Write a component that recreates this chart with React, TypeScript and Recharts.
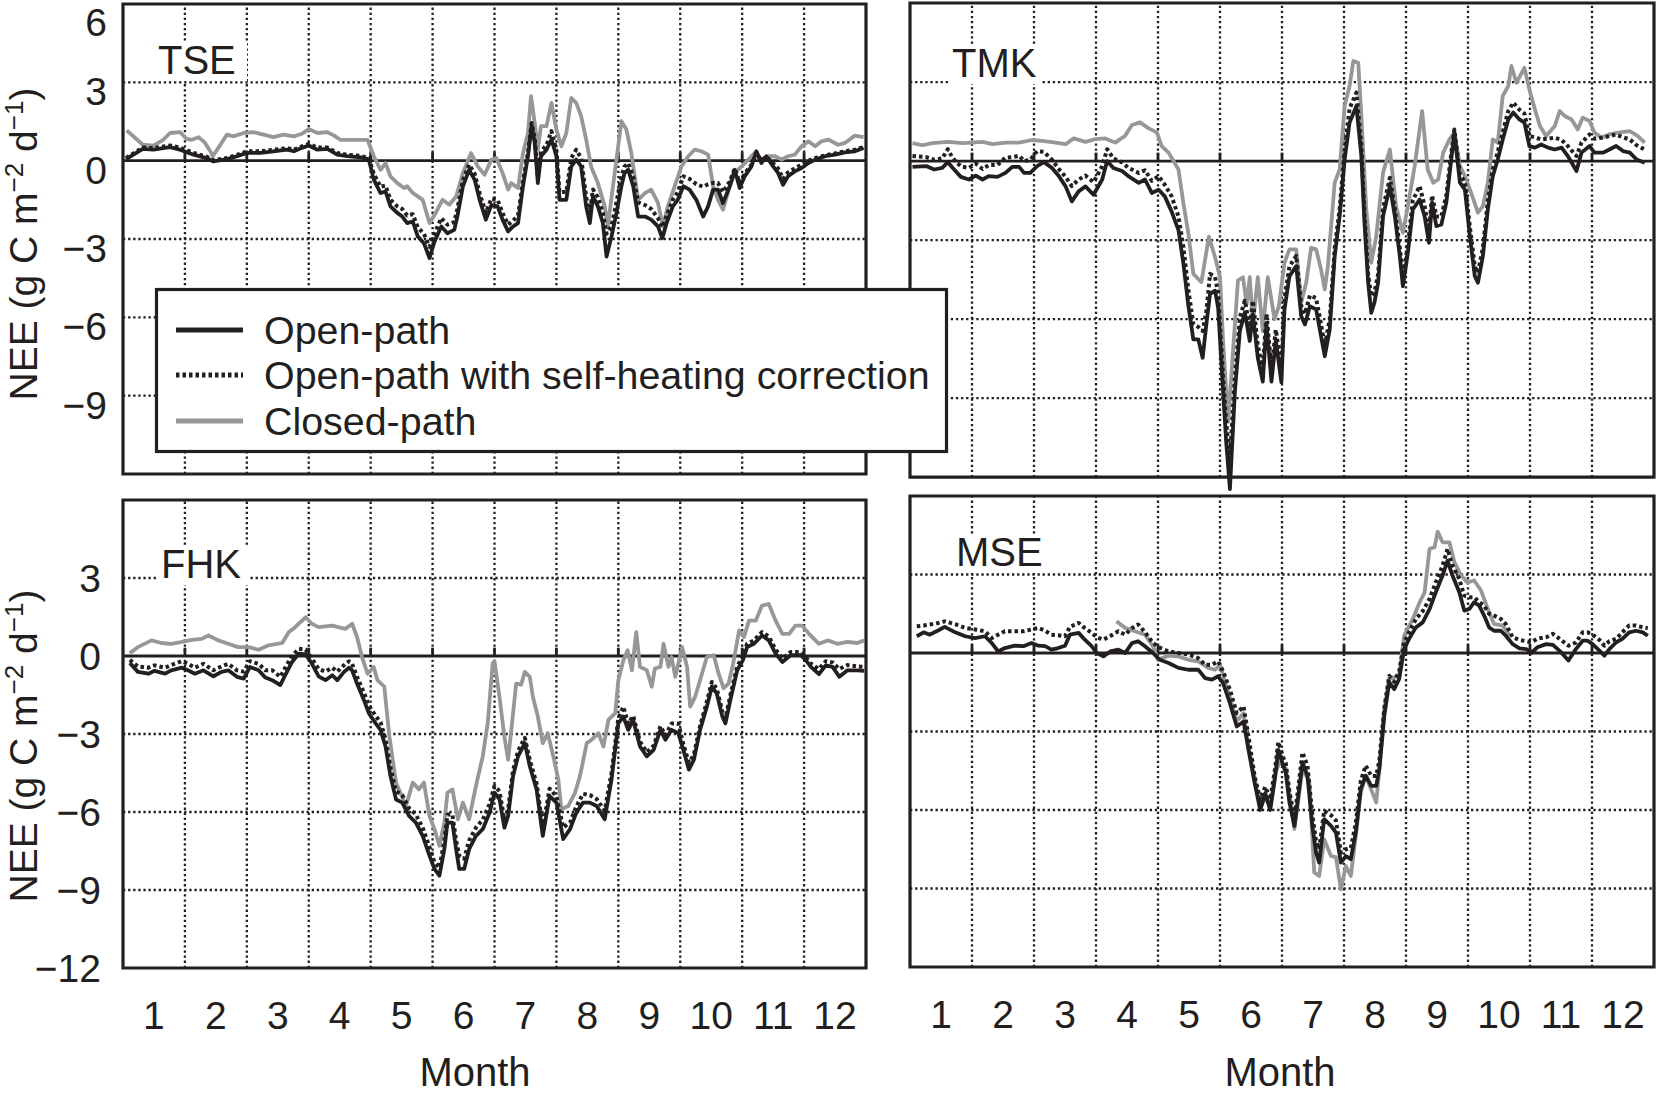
import { LineChart, Line, XAxis, YAxis, ReferenceLine, ReferenceArea } from 'recharts';

const INK = '#231f20';
const GREY = '#979797';
const FONT = '"Liberation Sans", Arial, Helvetica, sans-serif';

type Pt = [number, number]; // [month (0-12), NEE g C m-2 d-1]

const MONTHS = ['1', '2', '3', '4', '5', '6', '7', '8', '9', '10', '11', '12'];
const MONTH_BOUNDS = [1, 2, 3, 4, 5, 6, 7, 8, 9, 10, 11];
const GRID_Y = [3, -3, -6, -9];
const TOP_TICKS = [6, 3, 0, -3, -6, -9];
const BOTTOM_TICKS = [3, 0, -3, -6, -9, -12];

// ---- TSE ----
const TSE_OPEN: Pt[] = [[0.05,0.06],[0.32,0.45],[0.49,0.42],[0.76,0.52],[0.92,0.42],[1.14,0.23],[1.35,0.1],[1.46,-0.03],[1.68,0.06],[1.84,0.17],[2.0,0.3],[2.22,0.3],[2.43,0.36],[2.65,0.42],[2.76,0.36],[2.89,0.49],[3.0,0.58],[3.14,0.42],[3.3,0.45],[3.46,0.23],[3.62,0.17],[3.84,0.13],[3.97,0.05],[4.05,-0.73],[4.16,-1.24],[4.24,-1.18],[4.32,-1.75],[4.43,-2.0],[4.51,-2.14],[4.59,-2.39],[4.68,-2.33],[4.76,-2.9],[4.86,-3.16],[4.95,-3.73],[5.03,-3.1],[5.14,-2.52],[5.24,-2.78],[5.35,-2.65],[5.4,-2.14],[5.49,-0.98],[5.59,-0.35],[5.68,-0.73],[5.76,-1.5],[5.86,-2.26],[5.95,-1.7],[6.05,-1.75],[6.13,-2.26],[6.22,-2.71],[6.3,-2.52],[6.38,-2.39],[6.46,-0.98],[6.54,0.17],[6.6,1.32],[6.65,0.68],[6.7,-0.86],[6.75,0.17],[6.84,0.42],[6.92,0.81],[7.0,0.17],[7.05,-1.5],[7.16,-1.5],[7.24,-0.22],[7.32,0.04],[7.4,-0.22],[7.48,-1.75],[7.54,-2.39],[7.59,-1.37],[7.67,-1.75],[7.75,-2.39],[7.81,-3.67],[7.89,-2.9],[7.97,-2.0],[8.05,-0.98],[8.1,-0.47],[8.16,-0.35],[8.24,-0.98],[8.32,-2.14],[8.43,-2.14],[8.53,-2.26],[8.64,-2.52],[8.71,-2.97],[8.78,-2.39],[8.88,-1.75],[8.96,-1.5],[9.05,-0.98],[9.15,-1.11],[9.26,-1.5],[9.37,-2.14],[9.45,-1.75],[9.53,-1.11],[9.61,-1.11],[9.69,-1.62],[9.8,-0.98],[9.88,-0.35],[9.96,-1.05],[10.04,-0.6],[10.15,-0.22],[10.23,0.36],[10.31,-0.09],[10.39,0.17],[10.5,-0.22],[10.58,-0.47],[10.66,-0.92],[10.74,-0.6],[10.85,-0.41],[10.96,-0.28],[11.07,-0.09],[11.18,0.04],[11.34,0.17],[11.5,0.23],[11.66,0.32],[11.82,0.36],[11.96,0.49]];
const TSE_SELF: Pt[] = [[0.05,0.1],[0.32,0.5],[0.49,0.48],[0.76,0.58],[0.92,0.5],[1.14,0.3],[1.35,0.15],[1.46,0.02],[1.68,0.1],[1.84,0.22],[2.0,0.36],[2.22,0.36],[2.43,0.42],[2.65,0.48],[2.76,0.42],[2.89,0.55],[3.0,0.64],[3.14,0.5],[3.3,0.5],[3.46,0.3],[3.62,0.22],[3.84,0.18],[3.97,0.1],[4.05,-0.5],[4.16,-1.0],[4.24,-0.95],[4.32,-1.5],[4.43,-1.75],[4.51,-1.85],[4.59,-2.1],[4.68,-2.05],[4.76,-2.55],[4.86,-2.8],[4.95,-3.3],[5.03,-2.8],[5.14,-2.2],[5.24,-2.45],[5.35,-2.35],[5.4,-1.85],[5.49,-0.75],[5.59,-0.15],[5.68,-0.5],[5.76,-1.25],[5.86,-2.0],[5.95,-1.45],[6.05,-1.5],[6.13,-2.0],[6.22,-2.45],[6.3,-2.3],[6.38,-2.1],[6.46,-0.8],[6.54,0.3],[6.6,1.44],[6.65,0.85],[6.7,-0.6],[6.75,0.35],[6.84,0.6],[6.92,1.13],[7.0,0.4],[7.05,-1.2],[7.16,-1.2],[7.24,0.1],[7.32,0.42],[7.4,0.1],[7.48,-1.4],[7.54,-2.0],[7.59,-1.1],[7.67,-1.4],[7.75,-2.0],[7.81,-2.8],[7.89,-2.5],[7.97,-1.6],[8.05,-0.6],[8.1,-0.22],[8.16,-0.1],[8.24,-0.6],[8.32,-1.6],[8.43,-1.7],[8.53,-1.85],[8.64,-2.2],[8.71,-2.55],[8.78,-2.1],[8.88,-1.5],[8.96,-1.2],[9.05,-0.6],[9.15,-0.7],[9.26,-0.9],[9.37,-1.0],[9.45,-0.9],[9.53,-0.85],[9.61,-0.86],[9.69,-1.2],[9.8,-0.8],[9.88,-0.3],[9.96,-0.85],[10.04,-0.5],[10.15,-0.15],[10.23,0.3],[10.31,0.0],[10.39,0.15],[10.5,-0.1],[10.58,-0.3],[10.66,-0.7],[10.74,-0.45],[10.85,-0.3],[10.96,-0.15],[11.07,0.0],[11.18,0.1],[11.34,0.2],[11.5,0.28],[11.66,0.36],[11.82,0.42],[11.96,0.52]];
const TSE_CLOSED: Pt[] = [[0.06,1.16],[0.32,0.61],[0.49,0.58],[0.65,0.8],[0.76,1.06],[0.92,1.09],[1.03,0.83],[1.11,0.8],[1.22,0.9],[1.32,0.7],[1.41,0.36],[1.45,0.17],[1.54,0.49],[1.68,1.0],[1.78,0.93],[1.95,1.06],[2.11,1.09],[2.27,1.0],[2.43,0.9],[2.59,1.0],[2.76,0.93],[2.89,1.03],[3.0,1.21],[3.14,1.06],[3.3,1.09],[3.41,0.96],[3.51,0.8],[3.73,0.8],[3.95,0.8],[4.05,0.17],[4.16,-0.35],[4.24,-0.09],[4.32,-0.6],[4.43,-0.86],[4.54,-1.05],[4.59,-0.98],[4.68,-1.24],[4.76,-1.37],[4.84,-1.5],[4.95,-2.39],[5.05,-2.0],[5.16,-1.5],[5.27,-1.69],[5.38,-1.37],[5.49,-0.47],[5.62,0.29],[5.73,-0.22],[5.84,-0.54],[5.95,0.04],[6.03,0.1],[6.13,-0.47],[6.22,-1.11],[6.27,-0.86],[6.38,-1.05],[6.46,0.29],[6.54,1.06],[6.59,2.47],[6.65,1.44],[6.7,0.42],[6.75,1.32],[6.84,1.32],[6.92,2.21],[7.0,1.19],[7.08,0.55],[7.16,1.06],[7.24,2.4],[7.32,2.21],[7.4,1.7],[7.48,0.81],[7.56,-0.22],[7.67,-0.86],[7.78,-1.75],[7.83,-2.5],[7.94,-0.5],[8.05,1.51],[8.13,1.19],[8.21,0.29],[8.32,-1.5],[8.43,-1.24],[8.53,-1.11],[8.64,-1.62],[8.72,-2.52],[8.8,-1.75],[8.91,-0.98],[9.02,-0.22],[9.13,0.17],[9.23,0.42],[9.34,0.36],[9.45,0.23],[9.53,-0.98],[9.61,-1.5],[9.69,-1.88],[9.8,-0.98],[9.88,-0.47],[9.99,-0.22],[10.1,0.04],[10.2,0.29],[10.31,0.04],[10.42,0.17],[10.53,0.17],[10.64,0.04],[10.74,0.17],[10.85,0.23],[10.96,0.55],[11.07,0.74],[11.18,0.55],[11.28,0.74],[11.39,0.81],[11.55,0.61],[11.66,0.68],[11.82,0.96],[11.96,0.9]];

// ---- TMK ----
const TMK_OPEN: Pt[] = [[0.04,-0.22],[0.26,-0.19],[0.39,-0.32],[0.52,-0.26],[0.61,-0.04],[0.69,-0.26],[0.82,-0.6],[0.95,-0.7],[1.06,-0.55],[1.17,-0.7],[1.27,-0.57],[1.41,-0.6],[1.54,-0.45],[1.65,-0.22],[1.76,-0.22],[1.84,-0.45],[1.94,-0.45],[2.05,-0.19],[2.16,-0.04],[2.29,-0.26],[2.4,-0.57],[2.51,-0.96],[2.61,-1.53],[2.72,-1.15],[2.83,-0.96],[2.96,-1.28],[3.1,-0.7],[3.18,0.0],[3.28,-0.26],[3.42,-0.38],[3.52,-0.57],[3.69,-0.83],[3.79,-0.7],[3.9,-1.21],[4.01,-1.09],[4.11,-1.34],[4.22,-1.92],[4.33,-2.62],[4.41,-3.9],[4.49,-5.49],[4.57,-6.77],[4.65,-6.77],[4.72,-7.47],[4.78,-6.19],[4.84,-5.04],[4.92,-4.92],[4.97,-5.56],[5.05,-8.75],[5.1,-10.66],[5.16,-12.45],[5.24,-8.75],[5.32,-6.45],[5.4,-5.75],[5.48,-6.83],[5.53,-5.81],[5.61,-7.47],[5.69,-8.37],[5.75,-6.19],[5.83,-8.37],[5.9,-6.8],[5.99,-8.4],[6.04,-5.63],[6.12,-4.37],[6.23,-3.99],[6.31,-5.89],[6.37,-6.2],[6.45,-5.51],[6.55,-5.63],[6.63,-6.65],[6.69,-7.41],[6.77,-6.39],[6.85,-3.61],[6.93,-2.09],[7.01,0.06],[7.09,1.46],[7.2,2.09],[7.28,0.19],[7.33,-2.34],[7.39,-4.62],[7.44,-5.76],[7.49,-5.38],[7.55,-4.62],[7.63,-2.09],[7.74,-0.95],[7.82,-2.09],[7.9,-3.61],[7.95,-4.75],[8.03,-3.48],[8.11,-1.84],[8.22,-1.46],[8.3,-2.09],[8.37,-3.1],[8.42,-1.58],[8.49,-2.47],[8.57,-2.41],[8.65,-1.58],[8.73,0.06],[8.78,1.08],[8.87,-0.82],[8.95,-1.08],[9.03,-2.85],[9.11,-4.37],[9.16,-4.62],[9.24,-3.61],[9.32,-1.84],[9.4,-0.57],[9.48,0.06],[9.56,0.82],[9.65,1.58],[9.73,1.84],[9.83,1.58],[9.91,1.46],[9.99,0.57],[10.08,0.51],[10.18,0.63],[10.29,0.51],[10.4,0.44],[10.51,0.51],[10.61,0.19],[10.75,-0.38],[10.83,0.32],[10.96,0.57],[11.04,0.32],[11.18,0.32],[11.28,0.44],[11.39,0.57],[11.5,0.38],[11.61,0.32],[11.72,0.06],[11.85,-0.06]];
const TMK_SELF: Pt[] = [[0.04,0.19],[0.26,0.15],[0.39,0.05],[0.52,0.1],[0.61,0.45],[0.69,0.1],[0.82,-0.2],[0.95,-0.26],[1.06,-0.1],[1.17,-0.3],[1.27,-0.15],[1.41,-0.15],[1.54,0.13],[1.65,0.15],[1.76,0.2],[1.84,0.0],[1.94,0.05],[2.05,0.38],[2.16,0.35],[2.29,0.05],[2.4,-0.3],[2.51,-0.6],[2.61,-0.95],[2.72,-0.7],[2.83,-0.55],[2.96,-0.8],[3.1,-0.2],[3.18,0.45],[3.28,0.1],[3.42,-0.05],[3.52,-0.25],[3.69,-0.45],[3.79,-0.35],[3.9,-0.75],[4.01,-0.57],[4.11,-0.9],[4.22,-1.34],[4.33,-2.1],[4.41,-3.26],[4.49,-4.9],[4.57,-6.19],[4.65,-6.3],[4.72,-6.45],[4.78,-5.7],[4.84,-4.28],[4.92,-4.4],[4.97,-5.0],[5.05,-8.2],[5.1,-9.9],[5.16,-11.3],[5.24,-8.2],[5.32,-5.94],[5.4,-5.3],[5.48,-6.3],[5.53,-5.3],[5.61,-7.0],[5.69,-7.9],[5.75,-5.8],[5.83,-7.9],[5.9,-6.4],[5.99,-7.9],[6.04,-5.2],[6.12,-4.0],[6.23,-3.6],[6.31,-5.5],[6.37,-5.8],[6.45,-5.1],[6.55,-5.2],[6.63,-6.2],[6.69,-7.0],[6.77,-6.0],[6.85,-3.3],[6.93,-1.8],[7.01,0.4],[7.09,2.0],[7.2,2.6],[7.28,0.6],[7.33,-2.0],[7.39,-4.3],[7.44,-5.13],[7.49,-5.0],[7.55,-4.3],[7.63,-1.8],[7.74,-0.63],[7.82,-1.8],[7.9,-3.3],[7.95,-4.37],[8.03,-3.2],[8.11,-1.5],[8.22,-0.95],[8.3,-1.7],[8.37,-2.7],[8.42,-1.3],[8.49,-2.1],[8.57,-2.1],[8.65,-1.3],[8.73,0.3],[8.78,1.2],[8.87,-0.5],[8.95,-0.8],[9.03,-2.5],[9.11,-4.0],[9.16,-4.24],[9.24,-3.3],[9.32,-1.5],[9.4,-0.3],[9.48,0.35],[9.56,1.1],[9.65,1.9],[9.73,2.22],[9.83,1.95],[9.91,1.8],[9.99,0.95],[10.08,0.9],[10.18,0.82],[10.29,0.85],[10.4,0.89],[10.51,0.8],[10.61,0.57],[10.75,0.19],[10.83,0.7],[10.96,1.01],[11.04,0.85],[11.18,0.89],[11.28,0.95],[11.39,1.01],[11.5,0.9],[11.61,0.82],[11.72,0.6],[11.85,0.44]];
const TMK_CLOSED: Pt[] = [[0.04,0.68],[0.2,0.6],[0.36,0.68],[0.61,0.73],[0.85,0.68],[1.17,0.73],[1.33,0.64],[1.54,0.7],[1.76,0.7],[1.97,0.8],[2.13,0.77],[2.35,0.7],[2.51,0.64],[2.64,0.86],[2.83,0.73],[2.99,0.83],[3.15,0.86],[3.31,0.7],[3.47,0.96],[3.58,1.37],[3.71,1.47],[3.85,1.24],[3.98,1.09],[4.06,0.57],[4.17,0.32],[4.25,0.0],[4.33,-0.32],[4.41,-1.6],[4.49,-2.75],[4.57,-4.28],[4.7,-4.6],[4.82,-2.87],[4.92,-3.64],[5.0,-4.41],[5.05,-6.83],[5.13,-9.9],[5.21,-7.22],[5.29,-4.53],[5.37,-4.41],[5.43,-5.43],[5.48,-4.41],[5.53,-6.19],[5.61,-4.41],[5.69,-6.45],[5.77,-4.41],[5.88,-6.0],[5.95,-5.5],[6.04,-3.86],[6.12,-3.35],[6.23,-3.35],[6.31,-5.38],[6.39,-4.62],[6.47,-3.29],[6.55,-3.35],[6.63,-4.11],[6.69,-4.87],[6.74,-3.99],[6.85,-0.82],[6.93,-0.32],[7.01,2.09],[7.09,2.85],[7.15,3.8],[7.23,3.73],[7.28,1.71],[7.36,-1.84],[7.44,-3.86],[7.52,-2.85],[7.63,-0.44],[7.74,0.44],[7.84,-1.71],[7.95,-2.72],[8.03,-1.71],[8.14,-0.19],[8.26,1.9],[8.35,-0.32],[8.44,-0.82],[8.52,-0.7],[8.6,0.32],[8.7,0.82],[8.78,1.08],[8.87,-0.19],[8.95,-0.57],[9.05,-1.2],[9.16,-1.96],[9.24,-1.71],[9.32,-0.82],[9.4,0.82],[9.48,0.7],[9.56,2.47],[9.65,2.85],[9.7,3.61],[9.78,2.97],[9.91,3.54],[9.99,2.72],[10.08,1.96],[10.16,1.33],[10.26,0.95],[10.4,1.33],[10.48,1.9],[10.56,1.71],[10.67,1.58],[10.77,1.2],[10.85,1.65],[10.96,1.52],[11.04,1.08],[11.15,0.89],[11.28,1.01],[11.42,1.08],[11.61,1.14],[11.74,0.95],[11.85,0.7]];

// ---- FHK ----
const FHK_OPEN: Pt[] = [[0.11,-0.27],[0.24,-0.61],[0.41,-0.68],[0.51,-0.57],[0.68,-0.68],[0.78,-0.55],[0.95,-0.45],[1.05,-0.55],[1.16,-0.68],[1.3,-0.55],[1.46,-0.78],[1.59,-0.61],[1.7,-0.55],[1.84,-0.8],[1.95,-0.87],[2.05,-0.42],[2.19,-0.55],[2.3,-0.83],[2.41,-0.93],[2.54,-1.12],[2.62,-0.74],[2.73,-0.23],[2.84,0.09],[2.95,0.06],[3.05,-0.29],[3.16,-0.78],[3.27,-0.93],[3.38,-0.74],[3.46,-0.93],[3.57,-0.61],[3.65,-0.45],[3.7,-0.55],[3.78,-1.06],[3.89,-1.69],[3.97,-2.2],[4.08,-2.59],[4.16,-2.84],[4.24,-3.48],[4.32,-4.62],[4.41,-5.52],[4.51,-5.64],[4.62,-6.15],[4.73,-6.41],[4.84,-6.92],[4.95,-7.68],[5.03,-8.19],[5.11,-8.45],[5.19,-7.43],[5.24,-6.41],[5.32,-6.41],[5.38,-7.43],[5.43,-8.19],[5.51,-8.19],[5.59,-7.43],[5.7,-6.92],[5.81,-6.66],[5.92,-6.03],[6.0,-5.26],[6.08,-5.5],[6.16,-6.6],[6.22,-6.15],[6.3,-4.62],[6.38,-3.86],[6.49,-3.35],[6.57,-4.24],[6.68,-5.13],[6.78,-6.92],[6.89,-5.39],[7.0,-5.64],[7.11,-7.04],[7.22,-6.66],[7.32,-6.03],[7.43,-5.64],[7.54,-5.64],[7.65,-5.77],[7.78,-6.28],[7.89,-4.75],[8.0,-2.59],[8.08,-2.33],[8.16,-2.84],[8.24,-2.46],[8.35,-3.48],[8.46,-3.86],[8.57,-3.61],[8.68,-2.84],[8.76,-3.22],[8.86,-2.84],[8.97,-2.97],[9.05,-3.61],[9.14,-4.37],[9.22,-3.99],[9.32,-2.84],[9.43,-1.95],[9.51,-1.18],[9.59,-1.44],[9.68,-2.33],[9.73,-2.59],[9.81,-1.69],[9.92,-0.55],[10.01,-0.17],[10.08,0.34],[10.19,0.47],[10.32,0.79],[10.43,0.6],[10.54,0.09],[10.65,-0.23],[10.78,0.03],[10.95,0.03],[11.03,-0.17],[11.11,-0.42],[11.24,-0.7],[11.35,-0.36],[11.46,-0.42],[11.57,-0.8],[11.7,-0.55],[11.86,-0.55],[11.97,-0.57]];
const FHK_SELF: Pt[] = [[0.11,-0.15],[0.24,-0.4],[0.41,-0.45],[0.51,-0.36],[0.68,-0.45],[0.78,-0.35],[0.95,-0.2],[1.05,-0.3],[1.16,-0.45],[1.3,-0.3],[1.46,-0.55],[1.59,-0.4],[1.7,-0.3],[1.84,-0.55],[1.95,-0.6],[2.05,-0.2],[2.19,-0.3],[2.3,-0.55],[2.41,-0.55],[2.54,-0.8],[2.62,-0.45],[2.73,0.0],[2.84,0.28],[2.95,0.25],[3.05,-0.1],[3.16,-0.5],[3.27,-0.6],[3.38,-0.45],[3.46,-0.6],[3.57,-0.35],[3.65,-0.2],[3.7,-0.3],[3.78,-0.8],[3.89,-1.4],[3.97,-1.9],[4.08,-2.3],[4.16,-2.55],[4.24,-3.2],[4.32,-4.3],[4.41,-5.2],[4.51,-5.35],[4.62,-5.85],[4.73,-6.1],[4.84,-6.6],[4.95,-7.35],[5.03,-7.94],[5.11,-8.15],[5.19,-7.1],[5.24,-6.1],[5.32,-6.1],[5.38,-7.1],[5.43,-7.68],[5.51,-7.8],[5.59,-7.1],[5.7,-6.6],[5.81,-6.3],[5.92,-5.7],[6.0,-5.0],[6.08,-5.2],[6.16,-6.3],[6.22,-5.9],[6.3,-4.4],[6.38,-3.65],[6.49,-3.15],[6.57,-4.0],[6.68,-4.9],[6.78,-6.6],[6.89,-5.1],[7.0,-5.4],[7.11,-6.6],[7.22,-6.4],[7.32,-5.8],[7.43,-5.3],[7.54,-5.35],[7.65,-5.5],[7.78,-5.95],[7.89,-4.5],[8.0,-2.4],[8.08,-1.95],[8.16,-2.6],[8.24,-2.3],[8.35,-3.3],[8.46,-3.7],[8.57,-3.45],[8.68,-2.7],[8.76,-3.05],[8.86,-2.6],[8.97,-2.6],[9.05,-3.4],[9.14,-4.1],[9.22,-3.8],[9.32,-2.7],[9.43,-1.75],[9.51,-1.0],[9.59,-1.25],[9.68,-2.15],[9.73,-2.4],[9.81,-1.5],[9.92,-0.4],[10.01,0.0],[10.08,0.47],[10.19,0.6],[10.32,0.92],[10.43,0.75],[10.54,0.25],[10.65,-0.1],[10.78,0.15],[10.95,0.15],[11.03,-0.05],[11.11,-0.3],[11.24,-0.5],[11.35,-0.2],[11.46,-0.25],[11.57,-0.5],[11.7,-0.35],[11.86,-0.4],[11.97,-0.42]];
const FHK_CLOSED: Pt[] = [[0.11,0.11],[0.24,0.34],[0.46,0.6],[0.62,0.5],[0.78,0.47],[0.95,0.54],[1.11,0.62],[1.27,0.66],[1.38,0.79],[1.54,0.6],[1.7,0.47],[1.86,0.34],[2.03,0.34],[2.19,0.24],[2.35,0.41],[2.57,0.5],[2.68,0.92],[2.78,1.11],[2.95,1.49],[3.05,1.24],[3.16,1.11],[3.38,1.17],[3.59,1.04],[3.7,1.24],[3.78,0.73],[3.86,-0.04],[3.95,-0.68],[4.05,-0.42],[4.11,-0.93],[4.22,-1.18],[4.3,-3.06],[4.41,-4.87],[4.57,-5.77],[4.68,-4.87],[4.78,-5.13],[4.86,-4.87],[4.95,-6.15],[5.03,-6.66],[5.11,-7.3],[5.19,-6.41],[5.24,-5.26],[5.32,-5.13],[5.41,-6.28],[5.49,-5.64],[5.59,-6.28],[5.7,-5.0],[5.81,-3.86],[5.89,-2.59],[5.97,-0.29],[6.0,-0.2],[6.08,-1.57],[6.16,-3.1],[6.22,-3.99],[6.3,-2.2],[6.35,-1.06],[6.43,-1.1],[6.49,-0.61],[6.57,-0.8],[6.62,-1.57],[6.7,-2.33],[6.78,-3.35],[6.86,-2.97],[6.95,-3.86],[7.03,-4.75],[7.08,-5.9],[7.19,-5.77],[7.3,-5.26],[7.38,-4.62],[7.49,-3.35],[7.57,-3.22],[7.68,-2.97],[7.76,-3.48],[7.84,-2.46],[7.95,-2.2],[8.0,-0.93],[8.08,-0.17],[8.15,0.22],[8.22,-0.55],[8.29,0.92],[8.35,-0.42],[8.46,-0.55],[8.54,-1.18],[8.59,-0.48],[8.68,-0.42],[8.73,0.47],[8.81,-0.42],[8.86,-0.04],[8.92,-0.8],[9.03,0.34],[9.11,-0.42],[9.16,-1.95],[9.24,-1.57],[9.32,-0.93],[9.43,-0.04],[9.54,0.03],[9.62,-0.68],[9.7,-1.24],[9.78,-1.06],[9.86,-0.23],[9.95,0.98],[10.03,0.73],[10.11,1.36],[10.22,1.36],[10.32,1.94],[10.43,2.0],[10.54,1.36],[10.65,0.85],[10.76,0.85],[10.86,1.17],[10.97,1.17],[11.08,0.85],[11.24,0.47],[11.38,0.6],[11.54,0.47],[11.7,0.54],[11.86,0.5],[11.97,0.6]];

// ---- MSE ----
const MSE_OPEN: Pt[] = [[0.11,0.64],[0.22,0.79],[0.32,0.7],[0.46,0.87],[0.56,1.0],[0.73,0.79],[0.89,0.64],[1.05,0.57],[1.21,0.64],[1.32,0.38],[1.42,0.06],[1.53,0.19],[1.69,0.28],[1.83,0.26],[1.96,0.38],[2.07,0.28],[2.18,0.26],[2.28,0.13],[2.39,0.19],[2.5,0.28],[2.58,0.7],[2.72,0.77],[2.82,0.51],[2.93,0.26],[3.01,0.0],[3.12,-0.13],[3.23,0.06],[3.36,0.13],[3.47,0.0],[3.58,0.38],[3.68,0.45],[3.79,0.26],[3.92,0.0],[4.03,-0.26],[4.17,-0.38],[4.33,-0.57],[4.49,-0.64],[4.65,-0.64],[4.76,-0.96],[4.87,-1.02],[4.97,-0.89],[5.05,-1.15],[5.16,-1.92],[5.27,-2.81],[5.38,-2.62],[5.46,-3.7],[5.56,-4.98],[5.65,-6.0],[5.73,-5.36],[5.81,-6.0],[5.89,-4.73],[5.94,-3.7],[6.02,-4.3],[6.06,-4.57],[6.12,-5.71],[6.2,-6.61],[6.25,-5.71],[6.33,-4.18],[6.41,-4.69],[6.49,-6.61],[6.55,-7.63],[6.6,-8.01],[6.68,-6.35],[6.79,-6.61],[6.87,-6.86],[6.95,-8.01],[7.03,-7.76],[7.11,-7.88],[7.19,-6.86],[7.27,-5.2],[7.35,-4.69],[7.44,-5.08],[7.52,-5.08],[7.57,-4.44],[7.65,-2.4],[7.73,-1.12],[7.81,-1.38],[7.89,-0.99],[7.97,0.15],[8.05,0.54],[8.16,0.98],[8.27,1.17],[8.38,1.68],[8.48,2.32],[8.59,2.96],[8.67,3.53],[8.75,2.96],[8.86,2.32],[8.94,1.62],[9.02,1.68],[9.1,1.94],[9.18,1.81],[9.26,1.43],[9.34,0.98],[9.42,0.85],[9.53,0.85],[9.61,0.66],[9.72,0.34],[9.83,0.18],[9.94,0.15],[10.02,0.0],[10.12,0.22],[10.26,0.34],[10.37,0.31],[10.5,0.03],[10.62,-0.29],[10.74,0.15],[10.85,0.47],[10.93,0.47],[11.01,0.34],[11.12,0.09],[11.2,-0.1],[11.28,0.15],[11.39,0.41],[11.49,0.54],[11.6,0.79],[11.71,0.85],[11.82,0.79],[11.9,0.66]];
const MSE_SELF: Pt[] = [[0.11,1.02],[0.22,1.05],[0.32,1.09],[0.46,1.15],[0.56,1.21],[0.73,1.1],[0.89,0.96],[1.05,0.9],[1.21,0.83],[1.32,0.57],[1.42,0.7],[1.53,0.83],[1.69,0.83],[1.83,0.83],[1.96,0.9],[2.07,0.96],[2.18,0.85],[2.28,0.7],[2.39,0.68],[2.5,0.64],[2.58,1.0],[2.72,1.15],[2.82,0.95],[2.93,0.77],[3.01,0.6],[3.12,0.51],[3.23,0.65],[3.36,0.83],[3.47,0.7],[3.58,0.95],[3.68,1.09],[3.79,0.8],[3.92,0.38],[4.03,0.2],[4.17,0.06],[4.33,0.0],[4.49,-0.06],[4.65,-0.2],[4.76,-0.45],[4.87,-0.45],[4.97,-0.32],[5.05,-0.7],[5.16,-1.4],[5.27,-2.3],[5.38,-2.04],[5.46,-3.2],[5.56,-4.73],[5.65,-5.6],[5.73,-5.11],[5.81,-5.6],[5.89,-4.4],[5.94,-3.4],[6.02,-4.0],[6.06,-4.2],[6.12,-5.3],[6.2,-6.3],[6.25,-5.4],[6.33,-3.8],[6.41,-4.3],[6.49,-6.2],[6.55,-7.2],[6.6,-7.5],[6.68,-6.03],[6.79,-6.2],[6.87,-6.4],[6.95,-7.63],[7.03,-7.5],[7.11,-7.45],[7.19,-6.5],[7.27,-4.9],[7.35,-4.3],[7.44,-4.7],[7.52,-4.7],[7.57,-4.1],[7.65,-2.1],[7.73,-0.87],[7.81,-1.1],[7.89,-0.7],[7.97,0.41],[8.05,0.8],[8.16,1.3],[8.27,1.6],[8.38,2.07],[8.48,2.7],[8.59,3.34],[8.67,3.98],[8.75,3.34],[8.86,2.83],[8.94,2.19],[9.02,2.13],[9.1,2.13],[9.18,1.95],[9.26,1.81],[9.34,1.5],[9.42,1.43],[9.53,1.3],[9.61,1.1],[9.72,0.6],[9.83,0.5],[9.94,0.45],[10.02,0.41],[10.12,0.55],[10.26,0.6],[10.37,0.73],[10.5,0.5],[10.62,0.28],[10.74,0.4],[10.85,0.79],[10.93,0.79],[11.01,0.7],[11.12,0.5],[11.2,0.28],[11.28,0.45],[11.39,0.54],[11.49,0.79],[11.6,1.05],[11.71,1.05],[11.82,0.98],[11.9,0.95]];
const MSE_CLOSED: Pt[] = [[3.33,1.21],[3.47,0.96],[3.63,0.83],[3.79,0.7],[3.92,0.25],[4.0,-0.26],[4.17,-0.1],[4.33,-0.13],[4.49,-0.26],[4.65,-0.32],[4.81,-0.57],[4.92,-0.64],[5.0,-0.45],[5.16,-1.7],[5.27,-2.6],[5.38,-2.3],[5.46,-3.6],[5.56,-4.8],[5.65,-5.9],[5.73,-5.5],[5.81,-5.9],[5.89,-4.6],[5.96,-4.18],[6.06,-4.4],[6.2,-6.73],[6.33,-4.44],[6.44,-4.9],[6.52,-8.39],[6.6,-8.52],[6.68,-7.12],[6.79,-7.76],[6.87,-7.8],[6.95,-9.03],[7.03,-8.14],[7.11,-8.52],[7.19,-6.99],[7.27,-5.33],[7.35,-4.69],[7.52,-5.71],[7.57,-4.44],[7.65,-2.14],[7.73,-0.99],[7.89,-0.87],[7.97,0.66],[8.11,1.3],[8.22,1.94],[8.3,2.32],[8.38,3.98],[8.46,4.04],[8.51,4.64],[8.59,4.23],[8.7,4.23],[8.78,3.47],[8.89,2.96],[8.99,2.7],[9.1,2.77],[9.21,2.39],[9.32,1.68],[9.42,1.11],[9.56,1.05],[9.67,0.66]];

const SERIES = [
  { key: 'open', name: 'Open-path', color: INK, width: 3.8, dash: undefined as string | undefined },
  { key: 'self', name: 'Open-path with self-heating correction', color: INK, width: 4, dash: '3.5 3' },
  { key: 'closed', name: 'Closed-path', color: GREY, width: 3.8, dash: undefined as string | undefined },
];

interface PanelSpec {
  name: string;
  open: Pt[];
  self: Pt[];
  closed: Pt[];
  left: number;
  top: number;
  width: number;
  height: number;
  yDomain: [number, number];
  yTicks?: number[];
  tickDx?: number;
  tickDy?: number;
  months?: boolean;
  labelX: number;
  labelY: number;
}

const PANELS: PanelSpec[] = [
  { name: 'TSE', open: TSE_OPEN, self: TSE_SELF, closed: TSE_CLOSED, left: 123, top: 4, width: 743, height: 470, yDomain: [-12, 6], yTicks: TOP_TICKS, tickDx: -16, tickDy: 9, labelX: 158, labelY: 74 },
  { name: 'TMK', open: TMK_OPEN, self: TMK_SELF, closed: TMK_CLOSED, left: 910, top: 3, width: 744, height: 490, yDomain: [-12.6, 6], labelX: 952, labelY: 77 },
  { name: 'FHK', open: FHK_OPEN, self: FHK_SELF, closed: FHK_CLOSED, left: 123, top: 500, width: 743, height: 468, yDomain: [-12, 6], yTicks: BOTTOM_TICKS, tickDx: -22, tickDy: 0, months: true, labelX: 161, labelY: 578 },
  { name: 'MSE', open: MSE_OPEN, self: MSE_SELF, closed: MSE_CLOSED, left: 910, top: 496, width: 744, height: 471, yDomain: [-12, 6], months: true, labelX: 956, labelY: 566 },
];

const PAD = 12;
const X_AXIS_H = 80;
const TICK_FONT = 39;
const TEXT_FONT = 40;
const LEGEND_FONT = 39.4;

const toData = (pts: Pt[]) => pts.map(([m, v]) => ({ m, v }));
const fmt = (v: number) => (v < 0 ? `\u2212${-v}` : String(v));

function Panel(p: PanelSpec) {
  const showY = !!p.yTicks;
  const chartLeft = showY ? 0 : p.left - PAD;
  const chartTop = p.top - PAD;
  const width = p.left + p.width + PAD - chartLeft;
  const height = PAD + p.height + (p.months ? X_AXIS_H : PAD);
  const byKey: Record<string, Pt[]> = { open: p.open, self: p.self, closed: p.closed };
  const drawOrder = ['closed', 'self', 'open'];
  // keep the topmost tick label inside the page (page y >= 22)
  const minLabelY = 22 - chartTop;

  return (
    <div style={{ position: 'absolute', left: chartLeft, top: chartTop }}>
      <LineChart
        width={width}
        height={height}
        margin={{ top: PAD, right: PAD, bottom: p.months ? 0 : PAD, left: showY ? 0 : PAD }}
      >
        <XAxis
          type="number"
          dataKey="m"
          domain={[0, 12]}
          allowDataOverflow
          ticks={MONTHS.map((_, i) => i + 0.5)}
          interval={0}
          hide={!p.months}
          height={X_AXIS_H}
          axisLine={false}
          tickLine={false}
          tickSize={0}
          tickMargin={0}
          tick={(t: any) => (
            <text x={t.x} y={t.y + 61} textAnchor="middle" fontSize={TICK_FONT} fill={INK} fontFamily={FONT}>
              {MONTHS[Math.floor(t.payload.value)]}
            </text>
          )}
        />
        <YAxis
          type="number"
          domain={p.yDomain}
          allowDataOverflow
          ticks={p.yTicks ?? GRID_Y}
          interval={0}
          hide={!showY}
          width={p.left}
          axisLine={false}
          tickLine={false}
          tickSize={0}
          tickMargin={0}
          tick={(t: any) => (
            <text
              x={t.x + (p.tickDx ?? 0)}
              y={Math.max(t.y + (p.tickDy ?? 0), minLabelY) + 14}
              textAnchor="end"
              fontSize={TICK_FONT}
              fill={INK}
              fontFamily={FONT}
            >
              {fmt(t.payload.value)}
            </text>
          )}
        />
        {GRID_Y.map((g) => (
          <ReferenceLine key={`h${g}`} y={g} stroke={INK} strokeWidth={2.3} strokeDasharray="2.3 2.8" />
        ))}
        {MONTH_BOUNDS.map((b) => (
          <ReferenceLine
            key={`v${b}`}
            segment={[{ x: b, y: -12 }, { x: b, y: 6 }]}
            stroke={INK}
            strokeWidth={2.3}
            strokeDasharray="2.3 2.8"
          />
        ))}
        <ReferenceLine y={0} stroke={INK} strokeWidth={2.8} />
        {MONTH_BOUNDS.map((b) => (
          <ReferenceLine key={`t${b}`} segment={[{ x: b, y: 0 }, { x: b, y: 0.32 }]} stroke={INK} strokeWidth={2.8} />
        ))}
        <ReferenceArea x1={0} x2={12} y1={-12} y2={6} fill="none" stroke={INK} strokeWidth={3.2} />
        {drawOrder.map((k) => {
          const s = SERIES.find((d) => d.key === k)!;
          return (
            <Line
              key={k}
              data={toData(byKey[k])}
              dataKey="v"
              name={s.name}
              type="linear"
              stroke={s.color}
              strokeWidth={s.width}
              strokeDasharray={s.dash}
              strokeLinejoin="round"
              dot={false}
              activeDot={false}
              isAnimationActive={false}
            />
          );
        })}
      </LineChart>
    </div>
  );
}

function Overlay() {
  const legendRows = [330, 375, 421];
  return (
    <svg
      width={1658}
      height={1096}
      style={{ position: 'absolute', left: 0, top: 0, pointerEvents: 'none' }}
      fontFamily={FONT}
      fill={INK}
    >
      {PANELS.map((p) => (
        <g key={p.name}>
          <rect x={p.labelX - 3} y={p.labelY - 31} width={92} height={38} fill="#fff" />
          <text x={p.labelX} y={p.labelY} fontSize={TEXT_FONT} fill={INK}>
            {p.name}
          </text>
        </g>
      ))}

      {[244, 746].map((cy) => (
        <text key={cy} x={37} y={cy} transform={`rotate(-90 37 ${cy})`} textAnchor="middle" fontSize={TICK_FONT} fill={INK}>
          NEE (g C m
          <tspan fontSize={26} dy={-14}>
            {'\u22122'}
          </tspan>
          <tspan dy={14}> d</tspan>
          <tspan fontSize={26} dy={-14}>
            {'\u22121'}
          </tspan>
          <tspan dy={14}>)</tspan>
        </text>
      ))}

      {[475, 1280].map((cx) => (
        <text key={cx} x={cx} y={1086} textAnchor="middle" fontSize={TEXT_FONT} fill={INK}>
          Month
        </text>
      ))}

      <rect x={156.5} y={289.5} width={790} height={162} fill="#fff" stroke={INK} strokeWidth={3.2} />
      {SERIES.map((s, i) => (
        <g key={s.key}>
          <line
            x1={176}
            x2={243}
            y1={legendRows[i]}
            y2={legendRows[i]}
            stroke={s.color}
            strokeWidth={s.width + 1}
            strokeDasharray={s.dash}
          />
          <text x={264} y={legendRows[i] + 14} fontSize={LEGEND_FONT} fill={INK}>
            {s.name}
          </text>
        </g>
      ))}
    </svg>
  );
}

export default function App() {
  return (
    <div
      style={{
        position: 'absolute',
        left: 0,
        top: 0,
        width: 1658,
        height: 1096,
        background: '#fff',
        overflow: 'hidden',
        fontFamily: FONT,
      }}
    >
      {PANELS.map((p) => (
        <Panel key={p.name} {...p} />
      ))}
      <Overlay />
    </div>
  );
}
